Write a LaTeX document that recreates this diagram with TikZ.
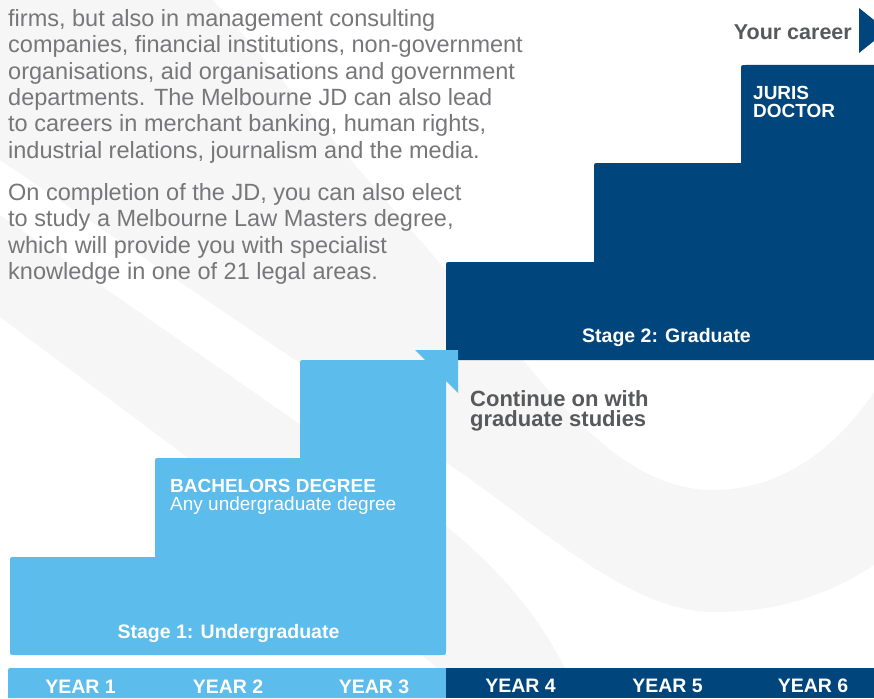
\documentclass[tikz,border=0pt]{standalone}
\usepackage{fontspec}
\setmainfont{Liberation Sans}
\definecolor{skyblue}{HTML}{5CBCEC}
\definecolor{navy}{HTML}{00457C}
\definecolor{bodygray}{HTML}{77777A}
\definecolor{labelgray}{HTML}{58595B}
\definecolor{bandgray}{HTML}{F6F6F6}
\begin{document}
\begin{tikzpicture}[x=1pt,y=-1pt,
  bodytext/.style={anchor=base west, inner sep=0pt, text=bodygray, font=\fontsize{23.5}{26}\selectfont},
  whitelabel/.style={inner sep=0pt, text=white, font=\bfseries\fontsize{19.5}{20}\selectfont},
  graylabel/.style={inner sep=0pt, text=labelgray, font=\bfseries\fontsize{22}{22}\selectfont},
  yearlabel/.style={anchor=base, inner sep=0pt, text=white, font=\bfseries\fontsize{19.5}{20}\selectfont}]
\useasboundingbox (0,0) rectangle (874,698);
\begin{scope}
\clip (0,0) rectangle (874,698);
\fill[white] (0,0) rectangle (874,698);
% background swoosh bands
\fill[bandgray] (0,0) -- (213,0) -- (523,360)
  .. controls (580,430) and (640,490) .. (713,490)
  .. controls (780,490) and (835,450) .. (874,392)
  -- (874,565)
  .. controls (820,600) and (770,612) .. (713,612)
  .. controls (630,612) and (540,526) .. (447,463)
  -- (0,160) -- cycle;
\fill[bandgray] (0,215) -- (447,527)
  .. controls (500,570) and (545,620) .. (575,690)
  -- (580,698) -- (470,698) -- (430,662) -- (187,457) -- (0,317) -- cycle;
% dark blue staircase
\fill[navy] (446,360) -- (446,267) .. controls (446,262) .. (451,262)
  -- (594,262) -- (594,168) .. controls (594,163) .. (599,163)
  -- (741,163) -- (741,70) .. controls (741,65) .. (746,65)
  -- (874,65) -- (874,360) -- cycle;
% light blue staircase with arrow tip
\fill[skyblue] (10,650) -- (10,562) .. controls (10,557) .. (15,557)
  -- (155,557) -- (155,463) .. controls (155,458) .. (160,458)
  -- (300,458) -- (300,365) .. controls (300,360) .. (305,360)
  -- (425,360) -- (415,350) -- (458,350) -- (458,393) -- (446,381)
  -- (446,650) .. controls (446,655) .. (441,655)
  -- (15,655) .. controls (10,655) .. (10,650) -- cycle;
% year bar
\fill[skyblue] (8,698) -- (8,673) .. controls (8,668) .. (13,668) -- (446,668) -- (446,698) -- cycle;
\fill[navy] (446,668) rectangle (874,698);
% career arrow
\fill[navy] (859,8) -- (887,30.5) -- (859,53) -- cycle;
\end{scope}
% body text
\foreach \t [count=\i] in {{firms, but also in management consulting},
  {companies, financial institutions, non-government},
  {organisations, aid organisations and government},
  {departments. The Melbourne JD can also lead},
  {to careers in merchant banking, human rights,},
  {industrial relations, journalism and the media.}}
  \node[bodytext] (pa\i) at (8,{26.5+(\i-1)*26.3}) {\t};
\foreach \t [count=\i] in {{On completion of the JD, you can also elect},
  {to study a Melbourne Law Masters degree,},
  {which will provide you with specialist},
  {knowledge in one of 21 legal areas.}}
  \node[bodytext] (pb\i) at (8,{200.5+(\i-1)*26.3}) {\t};
% labels
\node[graylabel, anchor=base east, font=\bfseries\fontsize{21.5}{22}\selectfont] (career) at (852,39.3) {Your career};
\node[whitelabel, anchor=base west] (jd) at (753,99.3)
  {\parbox[t]{110pt}{\raggedright\bfseries\fontsize{19}{18.4}\selectfont JURIS\\DOCTOR}};
\node[whitelabel, anchor=base] (stage2) at (666.5,342.5) {Stage 2: Graduate};
\node[whitelabel, anchor=base] (stage1) at (228.5,638) {Stage 1: Undergraduate};
\node[whitelabel, anchor=base west] (bach) at (170,492)
  {\parbox[t]{260pt}{\raggedright\mdseries\fontsize{19}{18.5}\selectfont\textbf{BACHELORS DEGREE}\\Any undergraduate degree}};
\node[graylabel, anchor=base west] (cont) at (470,406)
  {\parbox[t]{220pt}{\raggedright\bfseries\fontsize{22}{20.5}\selectfont Continue on with\\graduate studies}};
% years
\node[yearlabel] (y1) at (80.5,693) {YEAR 1};
\node[yearlabel] (y2) at (228,693) {YEAR 2};
\node[yearlabel] (y3) at (374,693) {YEAR 3};
\node[yearlabel] (y4) at (520.5,692.5) {YEAR 4};
\node[yearlabel] (y5) at (667.5,692.5) {YEAR 5};
\node[yearlabel] (y6) at (813,692.5) {YEAR 6};
\end{tikzpicture}
\end{document}
